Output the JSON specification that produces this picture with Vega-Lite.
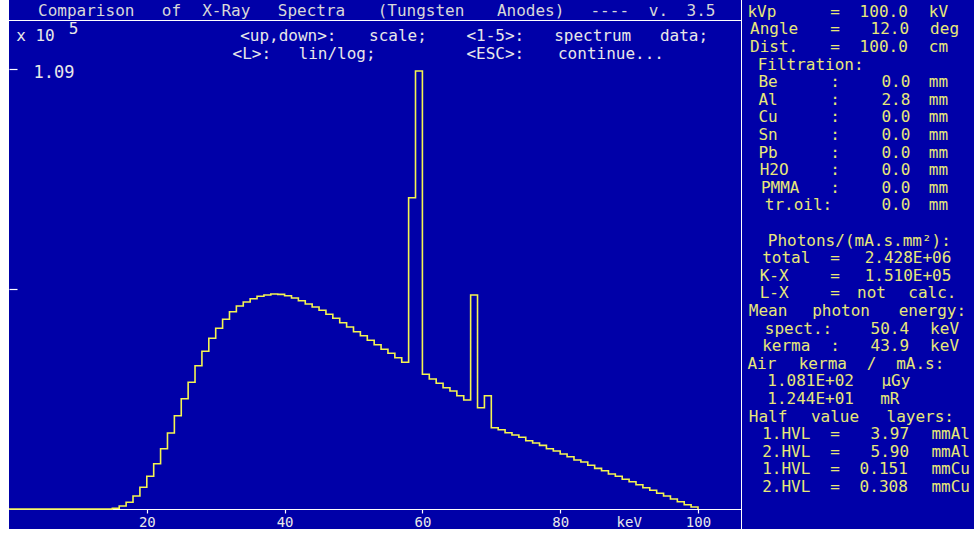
{
  "$schema": "https://vega.github.io/schema/vega-lite/v6.json",
  "background": "#ffffff",
  "padding": {"left": 8, "top": 0, "right": 0, "bottom": 4},
  "config": {
    "view": {"stroke": null, "fill": "#0000a8"},
    "text": {"font": "DejaVu Sans Mono", "fontSize": 16, "baseline": "middle", "align": "center"},
    "axis": {"labelFont": "DejaVu Sans Mono", "titleFont": "DejaVu Sans Mono", "grid": false}
  },
  "datasets": {
    "title": [
      {"row": 0, "col": 7.0, "t": "Comparison"},
      {"row": 0, "col": 14.0, "t": "of"},
      {"row": 0, "col": 18.5, "t": "X-Ray"},
      {"row": 0, "col": 25.5, "t": "Spectra"},
      {"row": 0, "col": 34.5, "t": "(Tungsten"},
      {"row": 0, "col": 43.5, "t": "Anodes)"},
      {"row": 0, "col": 50.0, "t": "----"},
      {"row": 0, "col": 54.0, "t": "v."},
      {"row": 0, "col": 57.5, "t": "3.5"}
    ],
    "header": [
      {"line": 1, "col": 2.83, "t": "x 10"},
      {"line": 0.64, "col": 5.95, "t": "5"},
      {"line": 1, "col": 23.6, "t": "<up,down>:"},
      {"line": 1, "col": 32.6, "t": "scale;"},
      {"line": 1, "col": 40.6, "t": "<1-5>:"},
      {"line": 1, "col": 48.6, "t": "spectrum"},
      {"line": 1, "col": 56.1, "t": "data;"},
      {"line": 2, "col": 20.6, "t": "<L>:"},
      {"line": 2, "col": 27.6, "t": "lin/log;"},
      {"line": 2, "col": 40.6, "t": "<ESC>:"},
      {"line": 2, "col": 50.1, "t": "continue..."}
    ],
    "panel": [
      {"row": 0, "col": 62.5, "t": "kVp"}, {"row": 0, "col": 68.5, "t": "="}, {"row": 0, "col": 72.5, "t": "100.0"}, {"row": 0, "col": 77.0, "t": "kV"},
      {"row": 1, "col": 63.5, "t": "Angle"}, {"row": 1, "col": 68.5, "t": "="}, {"row": 1, "col": 73.0, "t": "12.0"}, {"row": 1, "col": 77.5, "t": "deg"},
      {"row": 2, "col": 63.5, "t": "Dist."}, {"row": 2, "col": 68.5, "t": "="}, {"row": 2, "col": 72.5, "t": "100.0"}, {"row": 2, "col": 77.0, "t": "cm"},
      {"row": 3, "col": 66.5, "t": "Filtration:"},
      {"row": 4, "col": 63.0, "t": "Be"}, {"row": 4, "col": 68.5, "t": ":"}, {"row": 4, "col": 73.5, "t": "0.0"}, {"row": 4, "col": 77.0, "t": "mm"},
      {"row": 5, "col": 63.0, "t": "Al"}, {"row": 5, "col": 68.5, "t": ":"}, {"row": 5, "col": 73.5, "t": "2.8"}, {"row": 5, "col": 77.0, "t": "mm"},
      {"row": 6, "col": 63.0, "t": "Cu"}, {"row": 6, "col": 68.5, "t": ":"}, {"row": 6, "col": 73.5, "t": "0.0"}, {"row": 6, "col": 77.0, "t": "mm"},
      {"row": 7, "col": 63.0, "t": "Sn"}, {"row": 7, "col": 68.5, "t": ":"}, {"row": 7, "col": 73.5, "t": "0.0"}, {"row": 7, "col": 77.0, "t": "mm"},
      {"row": 8, "col": 63.0, "t": "Pb"}, {"row": 8, "col": 68.5, "t": ":"}, {"row": 8, "col": 73.5, "t": "0.0"}, {"row": 8, "col": 77.0, "t": "mm"},
      {"row": 9, "col": 63.5, "t": "H2O"}, {"row": 9, "col": 68.5, "t": ":"}, {"row": 9, "col": 73.5, "t": "0.0"}, {"row": 9, "col": 77.0, "t": "mm"},
      {"row": 10, "col": 64.0, "t": "PMMA"}, {"row": 10, "col": 68.5, "t": ":"}, {"row": 10, "col": 73.5, "t": "0.0"}, {"row": 10, "col": 77.0, "t": "mm"},
      {"row": 11, "col": 65.5, "t": "tr.oil:"}, {"row": 11, "col": 73.5, "t": "0.0"}, {"row": 11, "col": 77.0, "t": "mm"},
      {"row": 13, "col": 70.5, "t": "Photons/(mA.s.mm²):"},
      {"row": 14, "col": 64.5, "t": "total"}, {"row": 14, "col": 68.5, "t": "="}, {"row": 14, "col": 74.5, "t": "2.428E+06"},
      {"row": 15, "col": 63.5, "t": "K-X"}, {"row": 15, "col": 68.5, "t": "="}, {"row": 15, "col": 74.5, "t": "1.510E+05"},
      {"row": 16, "col": 63.5, "t": "L-X"}, {"row": 16, "col": 68.5, "t": "="}, {"row": 16, "col": 71.5, "t": "not"}, {"row": 16, "col": 76.5, "t": "calc."},
      {"row": 17, "col": 63.0, "t": "Mean"}, {"row": 17, "col": 69.0, "t": "photon"}, {"row": 17, "col": 76.5, "t": "energy:"},
      {"row": 18, "col": 65.5, "t": "spect.:"}, {"row": 18, "col": 73.0, "t": "50.4"}, {"row": 18, "col": 77.5, "t": "keV"},
      {"row": 19, "col": 64.5, "t": "kerma"}, {"row": 19, "col": 68.5, "t": ":"}, {"row": 19, "col": 73.0, "t": "43.9"}, {"row": 19, "col": 77.5, "t": "keV"},
      {"row": 20, "col": 62.5, "t": "Air"}, {"row": 20, "col": 67.5, "t": "kerma"}, {"row": 20, "col": 71.5, "t": "/"}, {"row": 20, "col": 75.5, "t": "mA.s:"},
      {"row": 21, "col": 66.5, "t": "1.081E+02"}, {"row": 21, "col": 73.5, "t": "µGy"},
      {"row": 22, "col": 66.5, "t": "1.244E+01"}, {"row": 22, "col": 73.0, "t": "mR"},
      {"row": 23, "col": 63.0, "t": "Half"}, {"row": 23, "col": 68.5, "t": "value"}, {"row": 23, "col": 75.5, "t": "layers:"},
      {"row": 24, "col": 64.5, "t": "1.HVL"}, {"row": 24, "col": 68.5, "t": "="}, {"row": 24, "col": 73.0, "t": "3.97"}, {"row": 24, "col": 78.0, "t": "mmAl"},
      {"row": 25, "col": 64.5, "t": "2.HVL"}, {"row": 25, "col": 68.5, "t": "="}, {"row": 25, "col": 73.0, "t": "5.90"}, {"row": 25, "col": 78.0, "t": "mmAl"},
      {"row": 26, "col": 64.5, "t": "1.HVL"}, {"row": 26, "col": 68.5, "t": "="}, {"row": 26, "col": 72.5, "t": "0.151"}, {"row": 26, "col": 78.0, "t": "mmCu"},
      {"row": 27, "col": 64.5, "t": "2.HVL"}, {"row": 27, "col": 68.5, "t": "="}, {"row": 27, "col": 72.5, "t": "0.308"}, {"row": 27, "col": 78.0, "t": "mmCu"}
    ],
    "spectrum": [
      {"E": 0, "v": 0}, {"E": 1, "v": 0}, {"E": 2, "v": 0}, {"E": 3, "v": 0}, {"E": 4, "v": 0},
      {"E": 5, "v": 0}, {"E": 6, "v": 0}, {"E": 7, "v": 0}, {"E": 8, "v": 0}, {"E": 9, "v": 0},
      {"E": 10, "v": 0}, {"E": 11, "v": 0}, {"E": 12, "v": 0}, {"E": 13, "v": 0}, {"E": 14, "v": 0},
      {"E": 15, "v": 0.0017}, {"E": 16, "v": 0.0074}, {"E": 17, "v": 0.0166}, {"E": 18, "v": 0.0322}, {"E": 19, "v": 0.0538},
      {"E": 20, "v": 0.0810}, {"E": 21, "v": 0.1123}, {"E": 22, "v": 0.1494}, {"E": 23, "v": 0.1884}, {"E": 24, "v": 0.2312},
      {"E": 25, "v": 0.2734}, {"E": 26, "v": 0.3140}, {"E": 27, "v": 0.3551}, {"E": 28, "v": 0.3908}, {"E": 29, "v": 0.4231},
      {"E": 30, "v": 0.4478}, {"E": 31, "v": 0.4701}, {"E": 32, "v": 0.4890}, {"E": 33, "v": 0.5031}, {"E": 34, "v": 0.5130},
      {"E": 35, "v": 0.5212}, {"E": 36, "v": 0.5271}, {"E": 37, "v": 0.5304}, {"E": 38, "v": 0.5328}, {"E": 39, "v": 0.5320},
      {"E": 40, "v": 0.5286}, {"E": 41, "v": 0.5229}, {"E": 42, "v": 0.5162}, {"E": 43, "v": 0.5081}, {"E": 44, "v": 0.5006},
      {"E": 45, "v": 0.4924}, {"E": 46, "v": 0.4825}, {"E": 47, "v": 0.4726}, {"E": 48, "v": 0.4617}, {"E": 49, "v": 0.4511},
      {"E": 50, "v": 0.4394}, {"E": 51, "v": 0.4295}, {"E": 52, "v": 0.4181}, {"E": 53, "v": 0.4072}, {"E": 54, "v": 0.3958},
      {"E": 55, "v": 0.3859}, {"E": 56, "v": 0.3750}, {"E": 57, "v": 0.3636}, {"E": 58, "v": 0.7715}, {"E": 59, "v": 1.0855},
      {"E": 60, "v": 0.3338}, {"E": 61, "v": 0.3222}, {"E": 62, "v": 0.3115}, {"E": 63, "v": 0.3006}, {"E": 64, "v": 0.2924},
      {"E": 65, "v": 0.2808}, {"E": 66, "v": 0.2701}, {"E": 67, "v": 0.5304}, {"E": 68, "v": 0.2511}, {"E": 69, "v": 0.2808},
      {"E": 70, "v": 0.2015}, {"E": 71, "v": 0.1965}, {"E": 72, "v": 0.1891}, {"E": 73, "v": 0.1834}, {"E": 74, "v": 0.1777},
      {"E": 75, "v": 0.1693}, {"E": 76, "v": 0.1636}, {"E": 77, "v": 0.1578}, {"E": 78, "v": 0.1494}, {"E": 79, "v": 0.1437},
      {"E": 80, "v": 0.1363}, {"E": 81, "v": 0.1296}, {"E": 82, "v": 0.1214}, {"E": 83, "v": 0.1165}, {"E": 84, "v": 0.1083},
      {"E": 85, "v": 0.1008}, {"E": 86, "v": 0.0949}, {"E": 87, "v": 0.0867}, {"E": 88, "v": 0.0810}, {"E": 89, "v": 0.0736},
      {"E": 90, "v": 0.0677}, {"E": 91, "v": 0.0602}, {"E": 92, "v": 0.0528}, {"E": 93, "v": 0.0463}, {"E": 94, "v": 0.0389},
      {"E": 95, "v": 0.0322}, {"E": 96, "v": 0.0248}, {"E": 97, "v": 0.0181}, {"E": 98, "v": 0.0107}, {"E": 99, "v": 0.0050},
      {"E": 100, "v": 0}
    ]
  },
  "spacing": 1,
  "hconcat": [
    {
      "spacing": 1,
      "vconcat": [
        {
          "width": 732,
          "height": 20,
          "data": {"name": "title"},
          "mark": {"type": "text", "color": "#d8d8d8", "clip": true},
          "encoding": {
            "x": {"field": "col", "type": "quantitative", "axis": null,
                  "scale": {"domain": [0.6571, 60.7803], "nice": false, "zero": false}},
            "y": {"field": "row", "type": "quantitative", "axis": null,
                  "scale": {"domain": [-0.55, 0.45], "reverse": true, "nice": false, "zero": false}},
            "text": {"field": "t"}
          }
        },
        {
          "spacing": 0,
          "vconcat": [
            {
              "width": 732,
              "height": 41,
              "data": {"name": "header"},
              "mark": {"type": "text", "color": "#e8e8e8", "clip": true},
              "encoding": {
                "x": {"field": "col", "type": "quantitative", "axis": null,
                      "scale": {"domain": [0.6571, 60.7803], "nice": false, "zero": false}},
                "y": {"field": "line", "type": "quantitative", "axis": null,
                      "scale": {"domain": [0.19444, 2.47222], "reverse": true, "nice": false, "zero": false}},
                "text": {"field": "t"}
              }
            },
            {
              "width": 732,
              "height": 467,
              "data": {"name": "spectrum"},
              "mark": {"type": "line", "interpolate": "step-after", "color": "#f4f450", "strokeWidth": 1.6, "clip": true},
              "encoding": {
                "x": {
                  "field": "E", "type": "quantitative",
                  "scale": {"domain": [0, 106.24], "nice": false, "zero": false},
                  "axis": {
                    "values": [20, 40, 60, 80, 100], "format": "d", "offset": -20,
                    "domainColor": "#ffffff", "domainWidth": 1.2,
                    "tickColor": "#ffffff", "tickSize": 4, "tickWidth": 1.2,
                    "labelColor": "#e8e8e8", "labelFontSize": 14, "labelPadding": 9,
                    "labelBaseline": "middle", "labelFlush": false,
                    "title": "keV", "titleX": 619.7, "titleY": 13, "titleAlign": "center",
                    "titleBaseline": "middle", "titleColor": "#e8e8e8", "titleFontSize": 14,
                    "titleFontWeight": "normal"
                  }
                },
                "y": {
                  "field": "v", "type": "quantitative",
                  "scale": {"domain": [-0.04957, 1.10781], "nice": false, "zero": false},
                  "axis": {
                    "orient": "left", "values": [0.545, 1.09], "offset": -8,
                    "domain": false, "tickColor": "#ffffff", "tickSize": 8, "tickWidth": 1.2,
                    "labelExpr": "datum.value > 1 ? '1.09' : ''",
                    "labelAlign": "left", "labelPadding": -24, "labelBaseline": "middle",
                    "labelOffset": 3, "labelColor": "#e8e8e8", "labelFontSize": 17,
                    "title": null
                  }
                }
              }
            }
          ]
        }
      ]
    },
    {
      "width": 233,
      "height": 529,
      "data": {"name": "panel"},
      "mark": {"type": "text", "color": "#e8e878", "clip": true},
      "encoding": {
        "x": {"field": "col", "type": "quantitative", "axis": null,
              "scale": {"domain": [60.8624, 80.0], "nice": false, "zero": false}},
        "y": {"field": "row", "type": "quantitative", "axis": null,
              "scale": {"domain": [-0.6648, 29.392], "reverse": true, "nice": false, "zero": false}},
        "text": {"field": "t"}
      }
    }
  ]
}
